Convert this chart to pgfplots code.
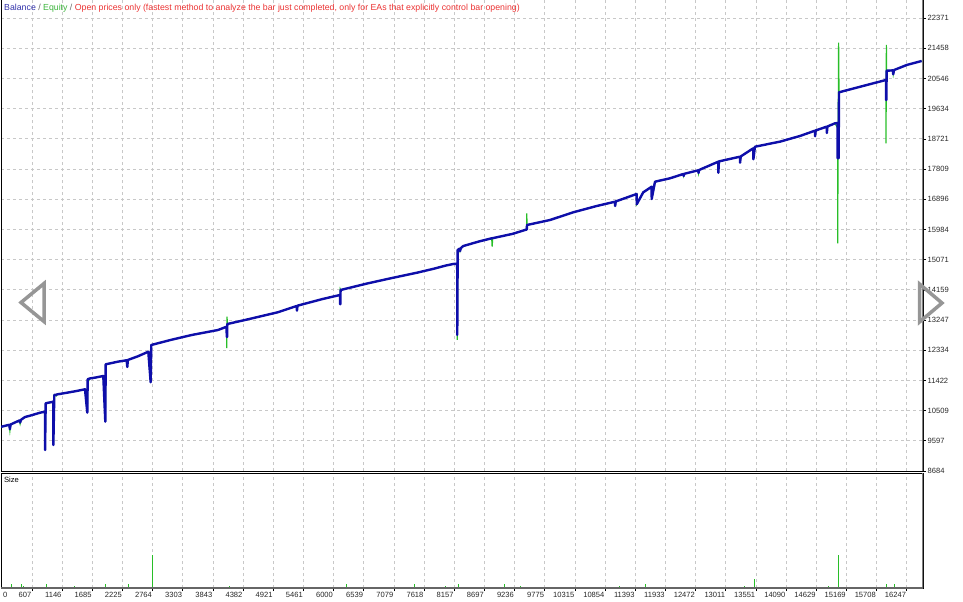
\documentclass[border=0pt]{standalone}
\usepackage{pgfplots}
\pgfplotsset{compat=1.18}
\usepackage{pgfplotstable}
\usepackage{fontspec}
\setmainfont{Liberation Sans}

\definecolor{balblue}{RGB}{14,14,170}
\definecolor{eqgreen}{RGB}{40,190,40}
\definecolor{gridgray}{RGB}{200,200,200}
\definecolor{navgray}{RGB}{150,150,150}
\definecolor{txtred}{RGB}{235,50,50}
\definecolor{txtblue}{RGB}{50,50,170}
\definecolor{txtgreen}{RGB}{60,180,60}

% trade number, balance, equity
\pgfplotstableread{
t bal eq
55 10020 10020
200 10080 10080
212 9950 9900
225 10090 10090
380 10210 10210
395 10150 10110
410 10230 10230
482 10316 10316
560 10350 10350
760 10450 10450
840 10476 10476
841 9319 9319
852 10730 10730
988 10778 10778
989 9470 9470
1006 10981 10981
1040 10990 10950
1060 11000 11000
1200 11040 11040
1400 11100 11100
1555 11153 11153
1596 10446 10446
1603 11455 11455
1625 11470 11420
1640 11480 11480
1750 11510 11510
1882 11555 11555
1918 10174 10174
1925 11908 11908
2150 11990 11990
2300 12030 12030
2311 11827 11827
2322 12040 12040
2500 12150 12150
2687 12289 12289
2729 11365 11365
2740 12492 12492
3100 12650 12650
3463 12794 12794
3700 12870 12870
3933 12945 12945
4088 13045 13045
4089 12733 12401
4095 12733 13347
4100 13126 13126
4500 13280 13280
5000 13480 13480
5340 13670 13670
5345 13530 13530
5355 13680 13680
5800 13880 13880
6114 14003 14003
6115 13722 13722
6120 13722 14175
6125 14154 14154
6600 14350 14350
7000 14500 14500
7500 14680 14680
7800 14800 14800
8000 14890 14890
8140 14940 14940
8210 14950 14950
8211 12794 12643
8219 15363 15363
8250 15400 15400
8260 15330 15330
8275 15420 15420
8319 15483 15483
8600 15620 15620
8827 15716 15716
8835 15716 15462
8845 15720 15720
9200 15850 15850
9422 15967 15967
9450 15980 15980
9455 15980 16472
9458 16118 16118
9869 16269 16269
10286 16502 16502
10700 16690 16690
11031 16822 16822
11035 16692 16692
11045 16830 16830
11419 17055 17055
11420 16744 16744
11537 17106 17106
11687 17275 17275
11688 16904 16904
11747 17427 17427
12015 17529 17529
12253 17659 17659
12260 17600 17600
12270 17665 17665
12520 17770 17770
12525 17690 17690
12535 17780 17780
12878 18031 18031
12880 17698 17698
12890 18040 18040
13266 18182 18182
13268 18001 18001
13280 18190 18190
13504 18436 18436
13506 18104 18104
13534 18484 18484
13981 18636 18636
14339 18808 18808
14607 18968 18968
14610 18800 18800
14620 18975 18975
14816 19089 19089
14820 18900 18900
14830 19095 19095
14965 19191 19191
15012 19200 19050
15013 18134 15565
15030 18134 21627
15037 20128 20128
15650 20400 20400
15877 20500 20500
15878 19896 18587
15884 19896 21558
15889 20781 20781
16000 20790 20790
16007 20672 20672
16020 20800 20800
16247 20953 20953
16515 21074 21074
}\curve

% trade number, lot size
\pgfplotstableread{
t lots
107 0.01
142 0.01
178 0.01
244 0.043
303 0.01
339 0.01
428 0.04
464 0.02
571 0.01
697 0.01
786 0.01
863 0.043
983 0.01
1197 0.01
1287 0.01
1376 0.02
1591 0.01
1680 0.015
1930 0.04
1984 0.01
2163 0.01
2329 0.04
2395 0.01
2485 0.01
2758 0.33
2842 0.01
2896 0.01
2985 0.01
3075 0.01
3164 0.01
3253 0.01
3343 0.01
3432 0.01
3915 0.01
3969 0.01
4058 0.01
4147 0.02
4237 0.01
4630 0.01
4809 0.01
4952 0.01
5041 0.01
5167 0.01
5488 0.01
5578 0.01
5667 0.01
5757 0.01
6150 0.01
6234 0.04
6347 0.01
6597 0.01
6883 0.01
6937 0.01
7008 0.01
7098 0.01
7187 0.01
7241 0.01
7455 0.04
7723 0.01
7777 0.01
7902 0.01
8009 0.02
8229 0.04
8314 0.01
8385 0.01
8492 0.01
8582 0.01
8671 0.01
8796 0.01
8975 0.01
9047 0.04
9243 0.01
9297 0.01
9333 0.02
9458 0.01
9780 0.01
9869 0.01
10227 0.01
10405 0.01
10531 0.01
10584 0.01
10763 0.01
10996 0.01
11121 0.02
11174 0.01
11299 0.01
11478 0.01
11580 0.04
11657 0.01
11746 0.01
12140 0.01
12265 0.01
12497 0.01
12640 0.01
12783 0.01
12998 0.01
13213 0.01
13356 0.02
13522 0.093
13570 0.01
13624 0.01
13802 0.01
14106 0.01
14160 0.015
14250 0.01
14339 0.01
14500 0.01
14607 0.01
14732 0.01
14858 0.02
15036 0.327
15144 0.01
15269 0.01
15376 0.01
15501 0.01
15680 0.01
15841 0.01
15895 0.04
16025 0.04
16127 0.01
16342 0.01
}\sizes

\pgfplotsset{
  mtbase/.style={
    scale only axis,
    width=922bp,
    xmin=53, xmax=16539,
    scaled ticks=false,
    xtick={607,1146,1685,2225,2764,3303,3843,4382,4921,5461,6000,6539,7079,7618,8157,8697,9236,9775,10315,10854,11393,11933,12472,13011,13551,14090,14629,15169,15708,16247},
    grid style={gridgray, dash pattern=on 3bp off 3bp, line width=0.8bp},
    axis line style={black, line width=1bp},
    tick align=outside,
    major tick length=3bp,
    tick style={black, line width=0.6bp},
    ticklabel style={font=\fontsize{7.6}{9}\selectfont, text=black!85},
    clip=true,
  },
}

\begin{document}
\begin{tikzpicture}
\useasboundingbox (0,0) rectangle (963bp,-602bp);

% main panel
\begin{axis}[mtbase,
  name=main,
  at={(1bp,0bp)}, anchor=north west,
  height=471bp,
  ymin=8684, ymax=22917,
  axis x line*=bottom, axis y line*=box,
  ytick={8684,9597,10509,11422,12334,13247,14159,15071,15984,16896,17809,18721,19634,20546,21458,22371},
  yticklabels={8684,9597,10509,11422,12334,13247,14159,15071,15984,16896,17809,18721,19634,20546,21458,22371},
  yticklabel pos=right,
  ytick pos=right,
  yticklabel style={anchor=west, inner xsep=1.5bp},
  xticklabels={},
  major x tick style={draw=none},
  xmajorgrids, ymajorgrids,
]
\addplot[eqgreen, line width=1.2bp] table[x=t, y=eq] {\curve};
\addplot[balblue, line width=2.4bp, line join=round] table[x=t, y=bal] {\curve};
\draw[black!50, line width=2bp] (rel axis cs:1,0) -- (rel axis cs:1,1);
\end{axis}

% size panel
\begin{axis}[mtbase,
  name=size,
  at={(1bp,-473bp)}, anchor=north west,
  height=115bp,
  ymin=0, ymax=1.15,
  ytick=\empty,
  xtick pos=bottom,
  xticklabels={607,1146,1685,2225,2764,3303,3843,4382,4921,5461,6000,6539,7079,7618,8157,8697,9236,9775,10315,10854,11393,11933,12472,13011,13551,14090,14629,15169,15708,16247},
  xticklabel style={anchor=north east, inner xsep=0.5bp, inner ysep=1.5bp},
  xmajorgrids,
]
\addplot[ycomb, eqgreen, line width=1bp] table[x=t, y=lots] {\sizes};
\draw[black!50, line width=2bp] (rel axis cs:1,0) -- (rel axis cs:1,1);
\draw[black!60, line width=1.5bp] (rel axis cs:0,0) -- (rel axis cs:1,0);
\node[anchor=north west, font=\fontsize{7.6}{9}\selectfont, inner sep=0pt] at ([xshift=3bp,yshift=-4bp]rel axis cs:0,1) {Size};
\end{axis}

\node[anchor=north west, font=\fontsize{7.6}{9}\selectfont, text=black!85, inner sep=0pt] at (3bp,-592bp) {0};

\node[anchor=base west, font=\fontsize{8.8}{10}\selectfont, inner sep=0pt] at (4bp,-10bp)
  {\textcolor{txtblue}{Balance}\textcolor{black!60}{\ /\ }\textcolor{txtgreen}{Equity}\textcolor{black!60}{\ /\ }\textcolor{txtred}{Open prices only (fastest method to analyze the bar just completed, only for EAs that explicitly control bar opening)}};

% navigation arrows
\draw[navgray, line width=3.5bp, line join=miter] (21bp,-302.5bp) -- (44bp,-283.5bp) -- (44bp,-321.5bp) -- cycle;
\draw[navgray, line width=3.5bp, line join=miter] (919.5bp,-284bp) -- (942bp,-303bp) -- (919.5bp,-322bp) -- cycle;
\end{tikzpicture}
\end{document}
